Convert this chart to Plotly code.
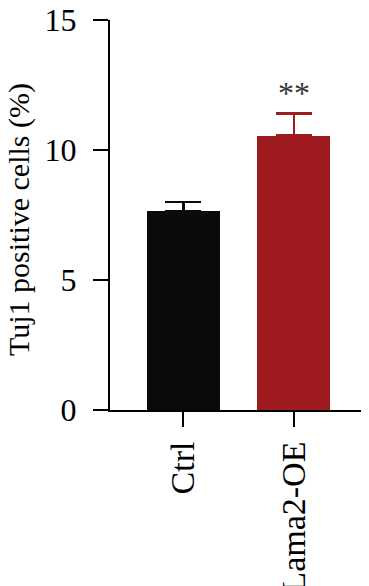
import plotly.graph_objects as go

categories = ["Ctrl", "Lama2-OE"]
means = [7.65, 10.55]
errors = [0.35, 0.85]
bar_colors = ["#0a0a0a", "#9e1c20"]
y_ticks = [0, 5, 10, 15]
significance = ["", "**"]
y_title = "Tuj1 positive cells (%)"

FONT = "Liberation Serif, Times New Roman, serif"

fig = go.Figure()
for i, cat in enumerate(categories):
    fig.add_trace(go.Bar(
        x=[i], y=[means[i]], width=0.66,
        marker=dict(color=bar_colors[i], line=dict(width=0)),
        error_y=dict(type="data", array=[errors[i]], arrayminus=[0], symmetric=False,
                     color=bar_colors[i], thickness=2.5, width=18),
        showlegend=False,
    ))
    if significance[i]:
        fig.add_annotation(x=i, y=means[i] + errors[i] + 0.8, text=significance[i],
                           showarrow=False, font=dict(family=FONT, size=32, color="#333333"),
                           xanchor="center", yanchor="middle")

fig.add_annotation(xref="paper", yref="paper", x=0, y=0.487, xshift=-91,
                   text=y_title, textangle=-90, showarrow=False,
                   font=dict(family=FONT, size=30, color="black"),
                   xanchor="center", yanchor="middle")

fig.update_layout(
    width=369, height=586,
    margin=dict(l=102, r=8, t=12, b=184),
    plot_bgcolor="white", paper_bgcolor="white",
    font=dict(family=FONT, color="black"),
    bargap=0,
)
fig.update_xaxes(
    range=[-0.665, 1.68], tickvals=[0, 1], ticktext=categories,
    tickangle=-90, ticks="outside", ticklen=15, tickwidth=2, tickcolor="black",
    showline=True, linewidth=2, linecolor="black", showgrid=False, zeroline=False,
    tickfont=dict(family=FONT, size=34, color="black"), automargin=False,
    ticklabelstandoff=1, ticklabeloverflow="allow",
)
fig.update_yaxes(
    range=[0, 15], tickvals=y_ticks, ticks="outside", ticklen=15, tickwidth=2, tickcolor="black",
    showline=True, linewidth=2, linecolor="black", showgrid=False, zeroline=False,
    tickfont=dict(family=FONT, size=32, color="black"), automargin=False,
    ticklabelstandoff=10, ticklabeloverflow="allow",
)

fig.write_html("out.html")
